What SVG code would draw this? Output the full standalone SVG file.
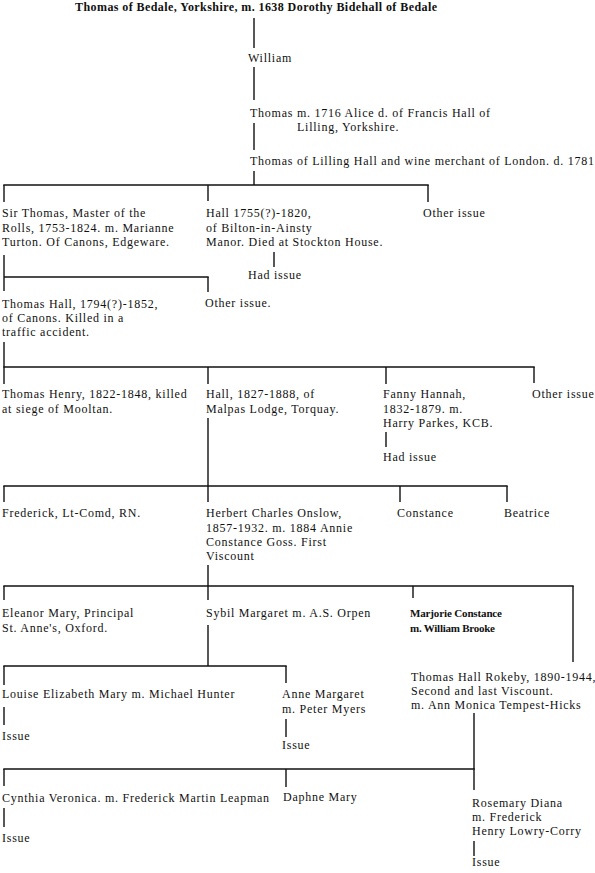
<svg xmlns="http://www.w3.org/2000/svg" width="595" height="873" viewBox="0 0 595 873">
<style>
text{font-family:"Liberation Serif","Times New Roman",serif;font-size:12px;letter-spacing:0.75px;fill:#111}
.b{font-weight:bold;letter-spacing:0}
.s{font-size:11px}
.c line{stroke:#111;stroke-width:1.4}
</style>
<rect width="595" height="873" fill="#fff"/>
<g class="c" id="connectors">
<line x1="254" y1="18" x2="254" y2="48"/>
<line x1="254" y1="67" x2="254" y2="100"/>
<line x1="254" y1="123" x2="254" y2="150"/>
<line x1="254" y1="171" x2="254" y2="185"/>
<line x1="3.3" y1="185" x2="428.7" y2="185"/>
<line x1="4" y1="185" x2="4" y2="202"/>
<line x1="208" y1="185" x2="208" y2="201"/>
<line x1="428" y1="185" x2="428" y2="202"/>
<line x1="274" y1="252" x2="274" y2="267"/>
<line x1="4" y1="255" x2="4" y2="291"/>
<line x1="4" y1="277" x2="208.7" y2="277"/>
<line x1="208" y1="277" x2="208" y2="292"/>
<line x1="4" y1="342" x2="4" y2="384"/>
<line x1="3.3" y1="367" x2="534.7" y2="367"/>
<line x1="208" y1="367" x2="208" y2="384"/>
<line x1="386" y1="367" x2="386" y2="384"/>
<line x1="534" y1="367" x2="534" y2="383"/>
<line x1="386" y1="432" x2="386" y2="447"/>
<line x1="208" y1="418" x2="208" y2="502"/>
<line x1="3.3" y1="486" x2="507.7" y2="486"/>
<line x1="4" y1="486" x2="4" y2="502"/>
<line x1="400" y1="486" x2="400" y2="502"/>
<line x1="507" y1="486" x2="507" y2="502"/>
<line x1="208" y1="565" x2="208" y2="600"/>
<line x1="3.3" y1="586" x2="573.7" y2="586"/>
<line x1="4" y1="586" x2="4" y2="600"/>
<line x1="413" y1="586" x2="413" y2="598"/>
<line x1="573" y1="586" x2="573" y2="662"/>
<line x1="208" y1="625" x2="208" y2="666"/>
<line x1="3.3" y1="666" x2="286.7" y2="666"/>
<line x1="4" y1="666" x2="4" y2="685"/>
<line x1="286" y1="666" x2="286" y2="683"/>
<line x1="4" y1="707" x2="4" y2="725"/>
<line x1="286" y1="719" x2="286" y2="737"/>
<line x1="474" y1="713" x2="474" y2="790"/>
<line x1="3.3" y1="769" x2="474.7" y2="769"/>
<line x1="4" y1="769" x2="4" y2="786"/>
<line x1="286" y1="769" x2="286" y2="787"/>
<line x1="4" y1="808" x2="4" y2="827"/>
<line x1="474" y1="841" x2="474" y2="856"/>
</g>
<g id="n-thomas-bedale"><text class="b" x="75" y="11" textLength="362" lengthAdjust="spacing">Thomas of Bedale, Yorkshire, m. 1638 Dorothy Bidehall of Bedale</text></g>
<g id="n-william"><text x="248" y="62">William</text></g>
<g id="n-thomas-1716"><text x="250" y="117">Thomas m. 1716 Alice d. of Francis Hall of</text><text x="297" y="131">Lilling, Yorkshire.</text></g>
<g id="n-thomas-lilling"><text x="250" y="165">Thomas of Lilling Hall and wine merchant of London. d. 1781</text></g>
<g id="n-sir-thomas"><text x="2" y="217">Sir Thomas, Master of the</text><text x="2" y="232">Rolls, 1753-1824. m. Marianne</text><text x="2" y="246">Turton. Of Canons, Edgeware.</text></g>
<g id="n-hall-1755"><text x="206" y="217">Hall 1755(?)-1820,</text><text x="206" y="232">of Bilton-in-Ainsty</text><text x="206" y="246">Manor. Died at Stockton House.</text></g>
<g id="n-other-1"><text x="423" y="217">Other issue</text></g>
<g id="n-had-issue-1"><text x="248" y="279">Had issue</text></g>
<g id="n-thomas-hall-1794"><text x="2" y="308">Thomas Hall, 1794(?)-1852,</text><text x="2" y="322">of Canons. Killed in a</text><text x="2" y="336">traffic accident.</text></g>
<g id="n-other-2"><text x="205" y="307">Other issue.</text></g>
<g id="n-thomas-henry"><text x="2" y="398">Thomas Henry, 1822-1848, killed</text><text x="2" y="413">at siege of Mooltan.</text></g>
<g id="n-hall-1827"><text x="206" y="398">Hall, 1827-1888, of</text><text x="206" y="413">Malpas Lodge, Torquay.</text></g>
<g id="n-fanny"><text x="383" y="398">Fanny Hannah,</text><text x="383" y="413">1832-1879. m.</text><text x="383" y="427">Harry Parkes, KCB.</text></g>
<g id="n-other-3"><text x="532" y="398">Other issue</text></g>
<g id="n-had-issue-2"><text x="383" y="461">Had issue</text></g>
<g id="n-frederick"><text x="2" y="517">Frederick, Lt-Comd, RN.</text></g>
<g id="n-herbert"><text x="206" y="517">Herbert Charles Onslow,</text><text x="206" y="532">1857-1932. m. 1884 Annie</text><text x="206" y="546">Constance Goss. First</text><text x="206" y="560">Viscount</text></g>
<g id="n-constance"><text x="397" y="517">Constance</text></g>
<g id="n-beatrice"><text x="504" y="517">Beatrice</text></g>
<g id="n-eleanor"><text x="2" y="617">Eleanor Mary, Principal</text><text x="2" y="632">St. Anne's, Oxford.</text></g>
<g id="n-sybil"><text x="206" y="617">Sybil Margaret m. A.S. Orpen</text></g>
<g id="n-marjorie"><text class="b s" x="410" y="617" textLength="92" lengthAdjust="spacing">Marjorie Constance</text><text class="b s" x="410" y="632" textLength="85" lengthAdjust="spacing">m. William Brooke</text></g>
<g id="n-thomas-rokeby"><text x="411" y="681">Thomas Hall Rokeby, 1890-1944,</text><text x="411" y="695">Second and last Viscount.</text><text x="411" y="709">m. Ann Monica Tempest-Hicks</text></g>
<g id="n-louise"><text x="2" y="698">Louise Elizabeth Mary m. Michael Hunter</text></g>
<g id="n-issue-louise"><text x="2" y="740">Issue</text></g>
<g id="n-anne"><text x="282" y="698">Anne Margaret</text><text x="282" y="713">m. Peter Myers</text></g>
<g id="n-issue-anne"><text x="282" y="749">Issue</text></g>
<g id="n-cynthia"><text x="2" y="802">Cynthia Veronica. m. Frederick Martin Leapman</text></g>
<g id="n-issue-cynthia"><text x="2" y="842">Issue</text></g>
<g id="n-daphne"><text x="283" y="801">Daphne Mary</text></g>
<g id="n-rosemary"><text x="472" y="807">Rosemary Diana</text><text x="472" y="821">m. Frederick</text><text x="472" y="835">Henry Lowry-Corry</text></g>
<g id="n-issue-rosemary"><text x="472" y="866">Issue</text></g>
</svg>
